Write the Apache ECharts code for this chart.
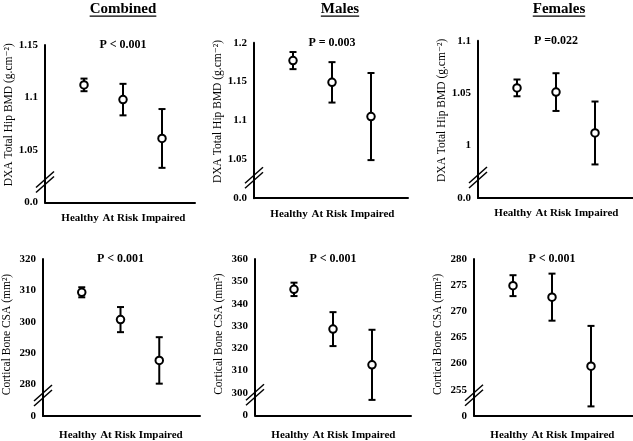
<!DOCTYPE html>
<html>
<head>
<meta charset="utf-8">
<script src="https://cdn.jsdelivr.net/npm/echarts@6/dist/echarts.min.js"></script>
<style>
  html, body { margin: 0; padding: 0; background: #fff; }
  #chart { width: 633px; height: 441px; }
</style>
</head>
<body>
<div id="chart"></div>
<script>
const categories = ['Healthy', 'At Risk', 'Impaired'];
const panelTitles = ['Combined', 'Males', 'Females'];
const bmdAxisName = 'DXA Total Hip BMD (g.cm⁻²)';
const csaAxisName = 'Cortical Bone CSA (mm²)';

// means and error (half length of bar)
const bmdCombinedMean = [1.112, 1.098, 1.061];
const bmdCombinedErr = [0.006, 0.015, 0.028];
const bmdMalesMean = [1.177, 1.149, 1.105];
const bmdMalesErr = [0.011, 0.026, 0.056];
const bmdFemalesMean = [1.055, 1.051, 1.012];
const bmdFemalesErr = [0.008, 0.018, 0.030];
const csaCombinedMean = [309.4, 300.7, 287.7];
const csaCombinedErr = [1.6, 4.0, 7.4];
const csaMalesMean = [346.4, 328.6, 312.6];
const csaMalesErr = [3.0, 7.6, 15.7];
const csaFemalesMean = [274.9, 272.7, 259.5];
const csaFemalesErr = [2.0, 4.5, 7.7];

const pValues = ['P < 0.001', 'P = 0.003', 'P =0.022', 'P < 0.001', 'P < 0.001', 'P < 0.001'];

// y axis: [min, max, interval], the min tick sits under the axis break
const yRanges = [[1.0, 1.15, 0.05], [1.0, 1.2, 0.05], [0.95, 1.1, 0.05], [270, 320, 10], [290, 360, 10], [250, 280, 5]];
const breakLabels = ['0.0', '0.0', '0.0', '0', '0', '0'];

const means = [bmdCombinedMean, bmdMalesMean, bmdFemalesMean, csaCombinedMean, csaMalesMean, csaFemalesMean];
const errs = [bmdCombinedErr, bmdMalesErr, bmdFemalesErr, csaCombinedErr, csaMalesErr, csaFemalesErr];

const layout = [
  {left: 45, top: 45, width: 150, height: 157.5},
  {left: 254, top: 42.7, width: 154, height: 155.5},
  {left: 478, top: 40.7, width: 155, height: 157.3},
  {left: 42, top: 259, width: 158, height: 157},
  {left: 255, top: 259, width: 156, height: 156.3},
  {left: 474, top: 259, width: 159, height: 156.8}
];
const unitPx = 39;
const titleX = [123, 340, 559];
const catStyles = ['l', 'm', 'r'];

const serif = "'Liberation Serif', 'Times New Roman', 'DejaVu Serif', serif";
const chart = echarts.init(document.getElementById('chart'), null, {renderer: 'canvas'});

const grids = [], xAxes = [], yAxes = [], series = [];
layout.forEach((g, i) => {
  const [yMin, yMax, step] = yRanges[i];
  const top = i < 3;
  grids.push({left: g.left, top: g.top, width: g.width, height: g.height, containLabel: false});
  xAxes.push({
    type: 'value', gridIndex: i, min: 0, max: g.width / unitPx, interval: 1,
    splitLine: {show: false}, axisTick: {show: false},
    axisLine: {lineStyle: {color: '#000', width: 2}},
    axisLabel: {
      showMaxLabel: false, margin: top ? 10 : 14, hideOverlap: false,
      color: '#000', fontFamily: serif, fontWeight: 'bold', fontSize: 11,
      formatter: v => categories[v - 1] ? '{' + catStyles[v - 1] + '|' + categories[v - 1] + '}' : '',
      rich: {
        l: {padding: [0, 8, 0, 0]},
        m: {padding: [0, 5, 0, 0]},
        r: {padding: [0, 0, 0, 3]}
      }
    }
  });
  yAxes.push({
    type: 'value', gridIndex: i, min: yMin, max: yMax, interval: step,
    name: i < 3 ? bmdAxisName : csaAxisName,
    nameLocation: 'middle', nameGap: top ? 29 : 30,
    nameTextStyle: {color: '#000', fontFamily: serif, fontSize: 11.5, padding: top ? [0, 0, 0, 18] : [0, 0, 0, 6]},
    splitLine: {show: false}, axisTick: {show: false},
    axisLine: {show: true, lineStyle: {color: '#000', width: 2}},
    axisLabel: {
      margin: 7, color: '#000', fontFamily: serif, fontWeight: 'bold', fontSize: 11,
      formatter: v => Math.abs(v - yMin) < 1e-9 ? breakLabels[i] : String(+v.toFixed(2))
    }
  });
  series.push({
    type: 'custom', xAxisIndex: i, yAxisIndex: i, z: 2,
    data: means[i].map((m, k) => [k + 1, m - errs[i][k], m + errs[i][k]]),
    renderItem: (params, api) => {
      const lo = api.coord([api.value(0), api.value(1)]);
      const hi = api.coord([api.value(0), api.value(2)]);
      const c = 3.5;
      const st = {stroke: '#000', lineWidth: 2};
      return {type: 'group', children: [
        {type: 'line', shape: {x1: lo[0], y1: lo[1], x2: hi[0], y2: hi[1]}, style: st},
        {type: 'line', shape: {x1: lo[0] - c, y1: lo[1], x2: lo[0] + c, y2: lo[1]}, style: st},
        {type: 'line', shape: {x1: hi[0] - c, y1: hi[1], x2: hi[0] + c, y2: hi[1]}, style: st}
      ]};
    }
  });
  series.push({
    type: 'scatter', xAxisIndex: i, yAxisIndex: i, z: 3,
    symbol: 'circle', symbolSize: 7.5,
    itemStyle: {color: '#fff', borderColor: '#000', borderWidth: 2, opacity: 1},
    data: means[i].map((m, k) => [k + 1, m])
  });
  series.push({
    type: 'scatter', xAxisIndex: i, yAxisIndex: i, symbolSize: 0, silent: true,
    itemStyle: {opacity: 1},
    data: [[2, yMax]],
    label: {show: true, position: 'inside', formatter: pValues[i],
      color: '#000', fontFamily: serif, fontWeight: 'bold', fontSize: 12}
  });
});

chart.setOption({
  animation: false,
  backgroundColor: '#fff',
  grid: grids, xAxis: xAxes, yAxis: yAxes, series: series
});

// titles with underline, and the axis break marks
const measure = document.createElement('canvas').getContext('2d');
measure.font = 'bold 15px ' + serif;
const graphics = [];
panelTitles.forEach((t, i) => {
  const w = measure.measureText(t).width;
  graphics.push({type: 'text', x: titleX[i], y: 9, style: {text: t, fill: '#000',
    font: 'bold 15px ' + serif, textAlign: 'center', textVerticalAlign: 'middle'}});
  graphics.push({type: 'rect', shape: {x: titleX[i] - w / 2, y: 15.5, width: w, height: 1.2}, style: {fill: '#000'}});
});
layout.forEach((g, i) => {
  const o = chart.convertToPixel({gridIndex: i}, [0, yRanges[i][0]]);
  [-23, -18].forEach(dy => {
    graphics.push({type: 'line', shape: {x1: o[0] - 9, y1: o[1] + dy + 8, x2: o[0] + 9, y2: o[1] + dy - 8},
      style: {stroke: '#000', lineWidth: 1.5}, z: 10});
  });
});
chart.setOption({graphic: graphics});
</script>
</body>
</html>
